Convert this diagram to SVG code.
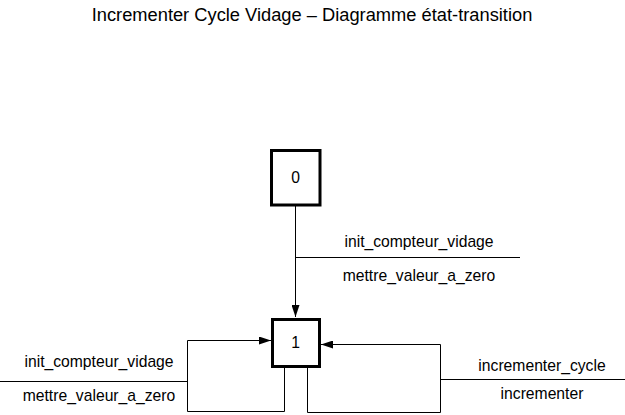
<svg xmlns="http://www.w3.org/2000/svg" width="625" height="415" viewBox="0 0 625 415">
<style>
text{font-family:"Liberation Sans",Arial,sans-serif;fill:#000}
.t{font-size:18.3px}
.l{font-size:15.7px}
.state{fill:#fff;stroke:#000;stroke-width:3}
.c{fill:none;stroke:#000;stroke-width:1}
</style>
<defs>
<marker id="ah" markerWidth="12" markerHeight="8" refX="12" refY="4" orient="auto" markerUnits="userSpaceOnUse">
<path d="M0,0 L12,4 L0,8 Z" fill="#000"/>
</marker>
</defs>
<rect width="625" height="415" fill="#fff"/>
<text class="t" x="312" y="21" text-anchor="middle">Incrementer Cycle Vidage – Diagramme état-transition</text>
<g id="connectors">
<path class="c" d="M295.5,206 L295.5,317" marker-end="url(#ah)"/>
<path class="c" d="M295.5,257.5 L520,257.5"/>
<path class="c" d="M284.5,368 L284.5,411.5 L187.5,411.5 L187.5,340.5 L271,340.5" marker-end="url(#ah)"/>
<path class="c" d="M0,381.5 L187.5,381.5"/>
<path class="c" d="M307.5,368 L307.5,412.5 L440.5,412.5 L440.5,344.5 L321,344.5" marker-end="url(#ah)"/>
<path class="c" d="M440.5,379.5 L625,379.5"/>
</g>
<g id="labels">
<text class="l" x="419" y="247" text-anchor="middle">init_compteur_vidage</text>
<text class="l" x="419" y="281" text-anchor="middle">mettre_valeur_a_zero</text>
<text class="l" x="99" y="367" text-anchor="middle">init_compteur_vidage</text>
<text class="l" x="99" y="401" text-anchor="middle">mettre_valeur_a_zero</text>
<text class="l" x="542" y="371" text-anchor="middle">incrementer_cycle</text>
<text class="l" x="542" y="399" text-anchor="middle">incrementer</text>
</g>
<g id="state0">
<rect class="state" x="271.5" y="150.5" width="48.5" height="54.5"/>
<text class="l" x="295.5" y="183" text-anchor="middle">0</text>
</g>
<g id="state1">
<rect class="state" x="272.5" y="319.5" width="47" height="47"/>
<text class="l" x="295.5" y="348" text-anchor="middle">1</text>
</g>
</svg>
